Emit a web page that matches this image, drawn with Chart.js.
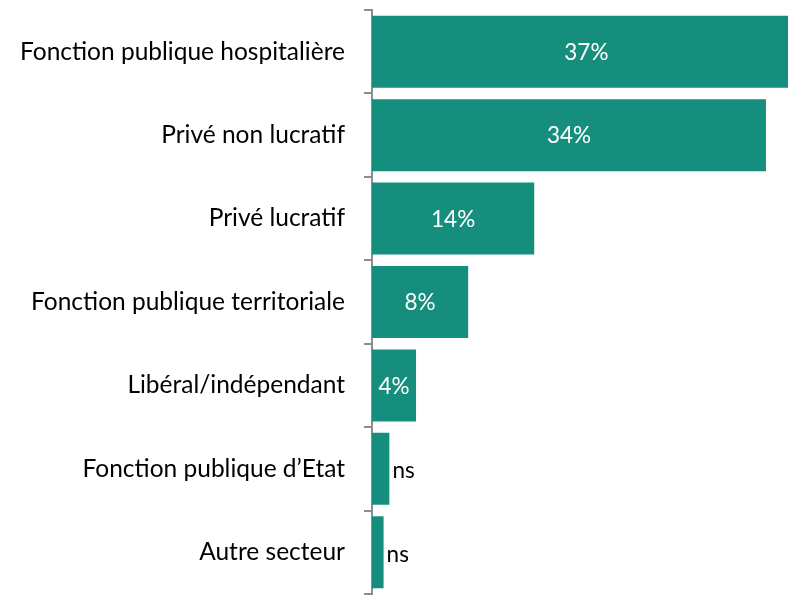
<!DOCTYPE html>
<html>
<head>
<meta charset="utf-8">
<script src="https://cdn.jsdelivr.net/npm/chart.js@4"></script>
<style>
  html, body { margin: 0; padding: 0; background: #fff; }
  #wrap { width: 788px; height: 597px; }
</style>
</head>
<body>
<div id="wrap"><canvas id="myChart"></canvas></div>
<script>
const categories = [
  'Fonction publique hospitalière',
  'Privé non lucratif',
  'Privé lucratif',
  'Fonction publique territoriale',
  'Libéral/indépendant',
  'Fonction publique d\u2019Etat',
  'Autre secteur'
];
const values = [37, 34, 14, 8.3, 3.8, 1.5, 1.0];
const valueLabels = ['37%', '34%', '14%', '8%', '4%', 'ns', 'ns'];

const barColor = '#168E7E';
const fontFamily = 'Lato, "Open Sans", sans-serif';

// etiquettes des barres : blanches dedans, noires a droite pour "ns"
const barLabels = {
  id: 'barLabels',
  afterDatasetsDraw(chart) {
    const ctx = chart.ctx;
    const area = chart.chartArea;
    const meta = chart.getDatasetMeta(0);
    ctx.save();
    ctx.font = '22.5px ' + fontFamily;
    ctx.textBaseline = 'middle';
    meta.data.forEach((bar, i) => {
      const txt = valueLabels[i];
      const right = Math.min(bar.x, area.right);
      if (txt === 'ns') {
        ctx.fillStyle = '#000';
        ctx.textAlign = 'left';
        ctx.fillText(txt, right + 3, bar.y + 2);
      } else {
        ctx.fillStyle = '#fff';
        ctx.textAlign = 'center';
        ctx.fillText(txt, (bar.base + bar.x) / 2, bar.y + 1);
      }
    });
    ctx.restore();
  }
};

const data = {
  labels: categories,
  datasets: [{
    data: values,
    backgroundColor: barColor,
    borderWidth: 0,
    barPercentage: 0.863,
    categoryPercentage: 1
  }]
};

const config = {
  type: 'bar',
  data: data,
  plugins: [barLabels],
  options: {
    indexAxis: 'y',
    responsive: true,
    maintainAspectRatio: false,
    animation: false,
    layout: { padding: { top: 10, bottom: 3, left: 0, right: 0 } },
    plugins: {
      legend: { display: false },
      tooltip: { enabled: false }
    },
    scales: {
      x: {
        display: false,
        min: 0,
        max: 35.9
      },
      y: {
        afterFit(scale) {
          scale.width = 372;
          scale.paddingTop = 0;
          scale.paddingBottom = 0;
        },
        border: { display: true, color: '#8c8c8c', width: 2 },
        grid: {
          offset: true,
          drawOnChartArea: false,
          drawTicks: true,
          tickLength: 8,
          color: '#8c8c8c',
          lineWidth: 2
        },
        ticks: {
          color: '#000',
          padding: 19,
          font: { family: fontFamily, size: 24.5 }
        }
      }
    }
  }
};

const myChart = new Chart(document.getElementById('myChart'), config);
</script>
</body>
</html>
